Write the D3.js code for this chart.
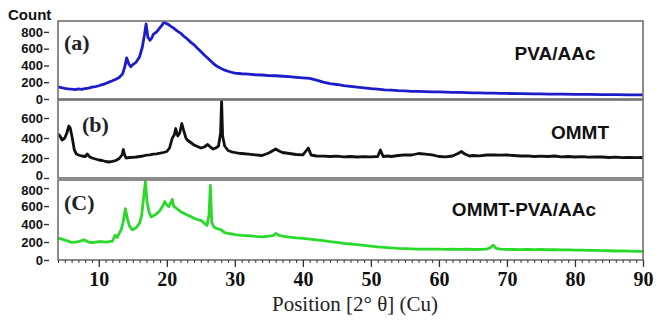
<!DOCTYPE html>
<html>
<head>
<meta charset="utf-8">
<script src="https://cdn.jsdelivr.net/npm/d3@7/dist/d3.min.js"></script>
<style>
  body { margin: 0; background: #fff; }
</style>
</head>
<body>
<div id="content"></div>
<script>
// ---- data ----
// tick values
var xTicks = [10, 20, 30, 40, 50, 60, 70, 80, 90]
var yTicksA = [0, 200, 400, 600, 800]
var yTicksB = [0, 200, 400, 600]
var yTicksC = [0, 200, 400, 600, 800]
var seriesNames = ['PVA/AAc', 'OMMT', 'OMMT-PVA/AAc']
var panelTags = ['(a)', '(b)', '(C)']
var yMaxes = [930, 780, 890]

// [position 2theta, count]
var pvaAAc = [[4,145],[4.5,136],[5,128],[5.5,121],[6,117],[6.5,113],[7,120],[7.5,114],[8,125],[8.5,130],
  [9,141],[9.5,147],[10,158],[10.5,171],[11,184],[11.5,201],[12,217],[12.5,236],[13,257],[13.5,300],
  [13.8,380],[14.1,490],[14.4,420],[14.7,385],[15,410],[15.5,440],[16,505],[16.4,620],[16.7,760],[16.95,895],
  [17.2,740],[17.5,700],[17.8,730],[18,770],[18.5,800],[19,850],[19.3,880],[19.6,920],[19.9,900],[20.2,890],
  [20.5,872],[21,845],[21.5,812],[22,786],[22.5,748],[23,716],[23.5,678],[24,646],[24.5,604],[25,566],
  [25.5,524],[26,489],[26.5,449],[27,411],[27.5,384],[28,363],[28.5,344],[29,331],[29.5,319],[30,309],
  [31,301],[32,296],[33,289],[34,286],[35,279],[36,277],[37,271],[38,266],[39,259],[40,253],
  [41,245],[42,224],[43,201],[44,184],[45,173],[46,159],[47,151],[48,141],[49,133],[50,124],
  [51,118],[52,110],[53,105],[54,99],[55,96],[56,92],[57,90],[58,88],[59,86],[60,85],
  [61,83],[62,80],[63,78],[64,77],[65,74],[66,72],[67,71],[68,69],[69,68],[70,66],
  [72,64],[74,61],[75,60],[76,59],[78,57],[80,56],[82,55],[84,53],[85,52],[86,51],[88,49],[90,48]]

var ommt = [[4,440],[4.3,420],[4.6,380],[5,400],[5.3,450],[5.6,520],[5.8,500],[6.1,400],[6.4,280],[6.7,240],
  [7,230],[7.5,220],[8,215],[8.3,240],[8.6,215],[9,200],[9.5,190],[10,180],[10.5,175],[11,165],
  [11.5,160],[12,166],[12.5,175],[13,195],[13.4,230],[13.6,285],[13.8,230],[14,200],[14.5,205],[15,206],
  [15.5,210],[16,215],[16.5,220],[17,228],[17.5,232],[18,238],[18.5,242],[19,248],[19.5,255],[20,265],
  [20.4,300],[20.8,400],[21.1,430],[21.3,495],[21.6,420],[21.9,450],[22.2,545],[22.5,470],[22.8,400],[23,380],
  [23.5,355],[24,330],[24.5,315],[25,300],[25.5,310],[26,335],[26.4,310],[26.8,290],[27.2,300],[27.6,320],
  [27.9,450],[28.05,775],[28.2,420],[28.5,320],[29,275],[29.5,262],[30,255],[30.5,248],[31,245],[32,238],
  [33,232],[34,225],[35,250],[35.5,270],[36,290],[36.5,270],[37,255],[37.5,250],[38,245],[39,235],
  [40,232],[40.8,300],[41.2,230],[42,220],[43,218],[44,215],[45,218],[46,212],[47,215],[48,210],
  [49,213],[50,212],[51,215],[51.4,280],[51.8,215],[52.5,220],[53,215],[54,225],[55,232],[56,230],
  [57,245],[58,238],[59,232],[60,215],[61,212],[62,220],[62.8,245],[63.3,265],[63.8,240],[64.5,220],
  [65,225],[66,222],[67,230],[68,232],[69,228],[70,230],[71,225],[72,220],[73,222],[74,215],
  [75,218],[76,215],[77,220],[78,212],[79,215],[80,210],[81,214],[82,208],[83,212],[84,210],
  [85,205],[86,208],[87,204],[88,206],[89,203],[90,205]]

var ommtPvaAAc = [[4,240],[4.5,235],[5,222],[5.5,210],[6,195],[6.5,200],[7,205],[7.5,215],[7.8,225],[8.2,210],
  [8.5,200],[9,192],[9.5,198],[10,203],[10.5,205],[11,200],[11.5,205],[12,210],[12.4,275],[12.7,250],
  [13,295],[13.3,340],[13.6,430],[13.9,570],[14.2,460],[14.5,380],[14.8,345],[15,335],[15.5,360],[16,410],
  [16.3,500],[16.6,700],[16.85,875],[17.1,640],[17.4,530],[17.7,480],[18,490],[18.5,515],[19,550],[19.4,600],
  [19.7,650],[20,610],[20.3,595],[20.6,640],[20.8,675],[21,600],[21.5,570],[22,540],[22.5,520],[23,500],
  [23.5,485],[24,465],[24.5,450],[25,440],[25.5,410],[25.9,385],[26.2,500],[26.4,830],[26.6,420],[26.9,370],
  [27.2,355],[27.6,345],[28,335],[28.5,305],[29,295],[29.5,290],[30,282],[31,275],[32,270],[33,262],
  [34,258],[35,265],[35.6,270],[36,295],[36.5,275],[37,265],[38,255],[39,245],[40,240],[41,232],
  [42,225],[43,215],[44,205],[45,195],[46,185],[47,178],[48,170],[49,162],[50,155],[51,145],
  [52,140],[53,135],[54,130],[55,127],[56,124],[57,122],[58,120],[59,120],[60,122],[61,118],
  [62,120],[63,118],[64,120],[65,117],[66,118],[67,120],[67.6,140],[68,165],[68.4,130],[69,120],
  [70,118],[71,117],[72,116],[73,118],[74,115],[75,117],[76,114],[77,115],[78,112],[79,113],
  [80,110],[81,110],[82,108],[83,107],[84,105],[85,103],[86,100],[87,100],[88,98],[89,96],[90,95]]

// ---- layout ----
svgwidth = 662
svgheight = 325
plotLeft = 58
plotRight = 643
panelBox = [{top: 21, bottom: 99}, {top: 100, bottom: 178}, {top: 180, bottom: 260}]
lineColors = ['#1c1cc8', '#111111', '#2bd92b']
yTicksList = [yTicksA, yTicksB, yTicksC]
seriesList = [pvaAAc, ommt, ommtPvaAAc]
tagPos = [[64, 50], [82, 132], [64, 210]]
namePos = [[555, 60], [580, 139], [524, 216]]

var svg = d3.select("#content").append("svg")
  .attr("width", svgwidth)
  .attr("height", svgheight)
  .style("display", "block")

var x = d3.scaleLinear()
  .domain([4, 90])
  .range([plotLeft, plotRight])

var defs = svg.append("defs")

for (var i = 0; i < 3; i++) {
  var box = panelBox[i]
  var y = d3.scaleLinear()
    .domain([0, yMaxes[i]])
    .range([box.bottom, box.top])

  defs.append("clipPath").attr("id", "clip" + i)
    .append("rect")
    .attr("x", plotLeft)
    .attr("y", box.top)
    .attr("width", plotRight - plotLeft)
    .attr("height", box.bottom - box.top)

  // the pattern
  var line = d3.line()
    .x(function(d) { return x(d[0]) })
    .y(function(d) { return y(d[1]) })
  svg.append("path")
    .datum(seriesList[i])
    .attr("clip-path", "url(#clip" + i + ")")
    .attr("d", line)
    .attr("fill", "none")
    .attr("stroke", lineColors[i])
    .attr("stroke-width", 2.8)
    .attr("stroke-linejoin", "round")

  // panel frame
  svg.append("rect")
    .attr("x", plotLeft)
    .attr("y", box.top)
    .attr("width", plotRight - plotLeft)
    .attr("height", box.bottom - box.top)
    .attr("fill", "none")
    .attr("stroke", "#707070")
    .attr("stroke-width", 1.6)

  // y axis, set a little away from the frame like the original
  var ya = svg.append("g")
    .attr("transform", "translate(" + (plotLeft - 9) + ",0)")
    .call(d3.axisLeft(y).tickValues(yTicksList[i]).tickSize(5).tickPadding(1))
  ya.select(".domain").remove()
  ya.selectAll("line").attr("stroke", "#333").attr("stroke-width", 1.4)
  ya.selectAll("text")
    .attr("fill", "#111")
    .style("font-family", "'Liberation Sans', Arial, sans-serif")
    .style("font-weight", "bold")
    .style("font-size", "13px")

  // the 0 of (b) and the 800 of (C) sit very close, spread them a touch
  if (i == 1) {
    ya.selectAll(".tick text").filter(function(d) { return d == 0 }).attr("y", -2.5)
  }
  if (i == 2) {
    ya.selectAll(".tick text").filter(function(d) { return d == 800 }).attr("y", 2)
  }

  // panel tag and sample name
  svg.append("text")
    .attr("x", tagPos[i][0])
    .attr("y", tagPos[i][1])
    .attr("fill", "#222")
    .style("font-family", "'Liberation Serif', 'Times New Roman', serif")
    .style("font-weight", "bold")
    .style("font-size", "22px")
    .text(panelTags[i])
  svg.append("text")
    .attr("x", namePos[i][0])
    .attr("y", namePos[i][1])
    .attr("text-anchor", "middle")
    .attr("fill", "#111")
    .style("font-family", "'Liberation Sans', Arial, sans-serif")
    .style("font-weight", "bold")
    .style("font-size", "19px")
    .text(seriesNames[i])
}

// "Count" label
svg.append("text")
  .attr("x", 8)
  .attr("y", 20)
  .attr("fill", "#111")
  .style("font-family", "'Liberation Sans', Arial, sans-serif")
  .style("font-weight", "bold")
  .style("font-size", "15px")
  .text("Count")

// x axis: minor ticks every degree, major every ten
var bottom = panelBox[2].bottom
var xMinor = svg.append("g")
  .attr("transform", "translate(0," + bottom + ")")
  .call(d3.axisBottom(x).tickValues(d3.range(4, 91)).tickSize(3).tickFormat(""))
xMinor.select(".domain").remove()
xMinor.selectAll("line").attr("stroke", "#333")

var xMajor = svg.append("g")
  .attr("transform", "translate(0," + bottom + ")")
  .call(d3.axisBottom(x).tickValues(xTicks).tickSize(7).tickPadding(5))
xMajor.select(".domain").remove()
xMajor.selectAll("line").attr("stroke", "#333").attr("stroke-width", 1.3)
xMajor.selectAll("text")
  .attr("fill", "#111")
  .style("font-family", "'Liberation Serif', 'Times New Roman', serif")
  .style("font-weight", "bold")
  .style("font-size", "20px")

// axis title
svg.append("text")
  .attr("x", 355)
  .attr("y", 311)
  .attr("text-anchor", "middle")
  .attr("fill", "#222")
  .style("font-family", "'Liberation Serif', 'Times New Roman', serif")
  .style("font-size", "21px")
  .text("Position [2° θ] (Cu)")
</script>
</body>
</html>
